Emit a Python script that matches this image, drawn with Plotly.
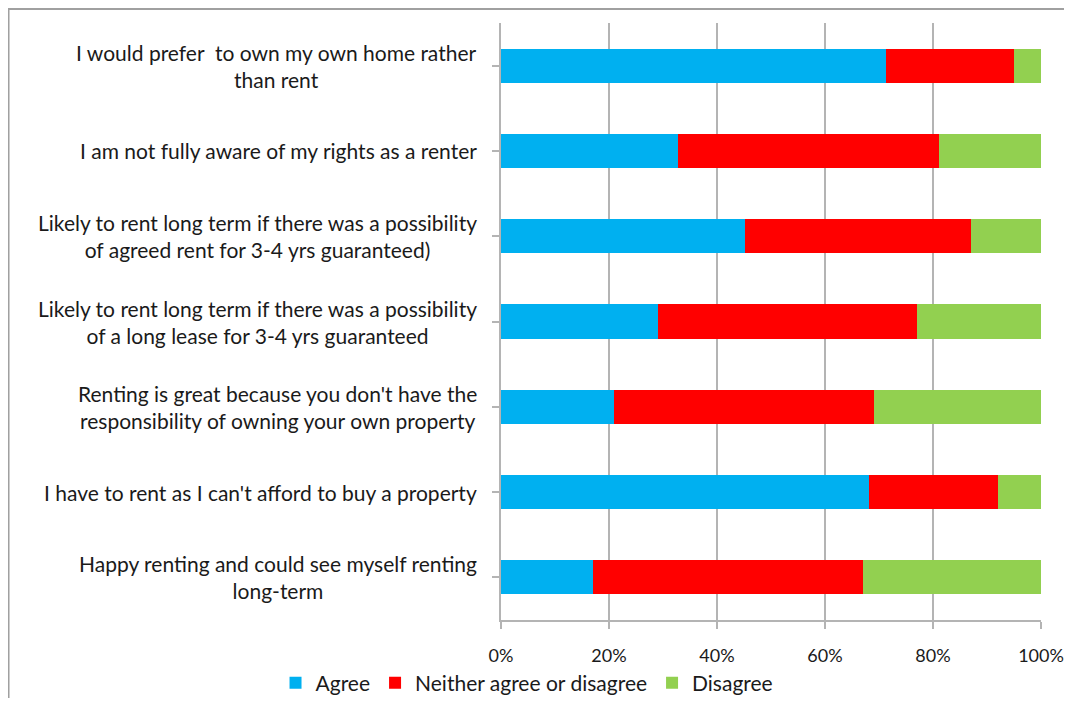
import plotly.graph_objects as go

# Survey statements, top to bottom as shown
statements = [
    "I would prefer  to own my own home rather<br>than rent",
    "I am not fully aware of my rights as a renter",
    "Likely to rent long term if there was a possibility<br>of agreed rent for 3-4 yrs guaranteed)",
    "Likely to rent long term if there was a possibility<br>of a long lease for 3-4 yrs guaranteed",
    "Renting is great because you don't have the<br>responsibility of owning your own property",
    "I have to rent as I can't afford to buy a property",
    "Happy renting and could see myself renting<br>long-term",
]
agree = [71.3, 32.8, 45.1, 29.1, 21.0, 68.1, 17.1]
neither = [23.7, 48.4, 42.0, 47.9, 48.0, 24.0, 49.9]
disagree = [5.0, 18.8, 12.9, 23.0, 31.0, 7.9, 33.0]

x_ticks = [0, 20, 40, 60, 80, 100]
x_tick_labels = ["0%", "20%", "40%", "60%", "80%", "100%"]

FONT = "Lato, Carlito, 'Open Sans', sans-serif"
FONT_SIZE = 21
TEXT_COLOR = "#1A1A1A"
GRID = "#B4B4B4"

cats = list(range(len(statements)))

fig = go.Figure()
for name, vals, color in [
    ("Agree", agree, "#00B0F0"),
    ("Neither agree or disagree", neither, "#FF0000"),
    ("Disagree", disagree, "#92D050"),
]:
    fig.add_trace(
        go.Bar(
            x=vals,
            y=cats,
            orientation="h",
            name=name,
            marker=dict(color=color, line=dict(width=0)),
        )
    )

# Category labels: right-aligned block, lines centered
for i, s in enumerate(statements):
    fig.add_annotation(
        x=-0.04, xref="paper", y=i, yref="y",
        text=s, showarrow=False, xanchor="right", yanchor="middle",
        align="center", font=dict(family=FONT, size=FONT_SIZE, color=TEXT_COLOR),
    )

# Outer chart border (top and left edges visible)
fig.add_shape(
    type="rect", xref="paper", yref="paper",
    x0=-0.912, x1=1.1, y0=-0.2, y1=1.0234,
    line=dict(color="#A0A0A0", width=2), fillcolor="rgba(0,0,0,0)", layer="below",
)

# page body has an 8px margin, so the figure is sized/offset to compensate
fig.update_layout(
    barmode="stack",
    bargap=0.6,
    width=1056,
    height=690,
    margin=dict(l=493, r=23, t=15, b=78),
    plot_bgcolor="white",
    paper_bgcolor="white",
    font=dict(family=FONT, size=FONT_SIZE, color=TEXT_COLOR),
    showlegend=True,
    legend=dict(
        orientation="h", xref="container", yref="container",
        x=0.4915, xanchor="center", y=0.0217, yanchor="middle",
        bgcolor="rgba(0,0,0,0)",
        font=dict(family=FONT, size=FONT_SIZE, color=TEXT_COLOR),
        traceorder="normal", itemwidth=30,
    ),
    xaxis=dict(
        range=[0, 100],
        tickvals=x_ticks,
        ticktext=x_tick_labels,
        showgrid=True, gridcolor=GRID, gridwidth=1.5,
        showline=True, linecolor=GRID, linewidth=1.5,
        ticks="outside", ticklen=7, tickcolor=GRID, tickwidth=1.5,
        ticklabelstandoff=12,
        zeroline=False,
        automargin=False,
        tickfont=dict(family=FONT, size=18, color=TEXT_COLOR),
    ),
    yaxis=dict(
        range=[len(statements) - 0.5, -0.5],
        tickvals=cats,
        showticklabels=False,
        showgrid=False,
        showline=True, linecolor=GRID, linewidth=1.5,
        ticks="outside", ticklen=7, tickcolor=GRID, tickwidth=1.5,
        tickson="boundaries",
        zeroline=False,
        automargin=False,
    ),
)

fig.write_html("out.html")
